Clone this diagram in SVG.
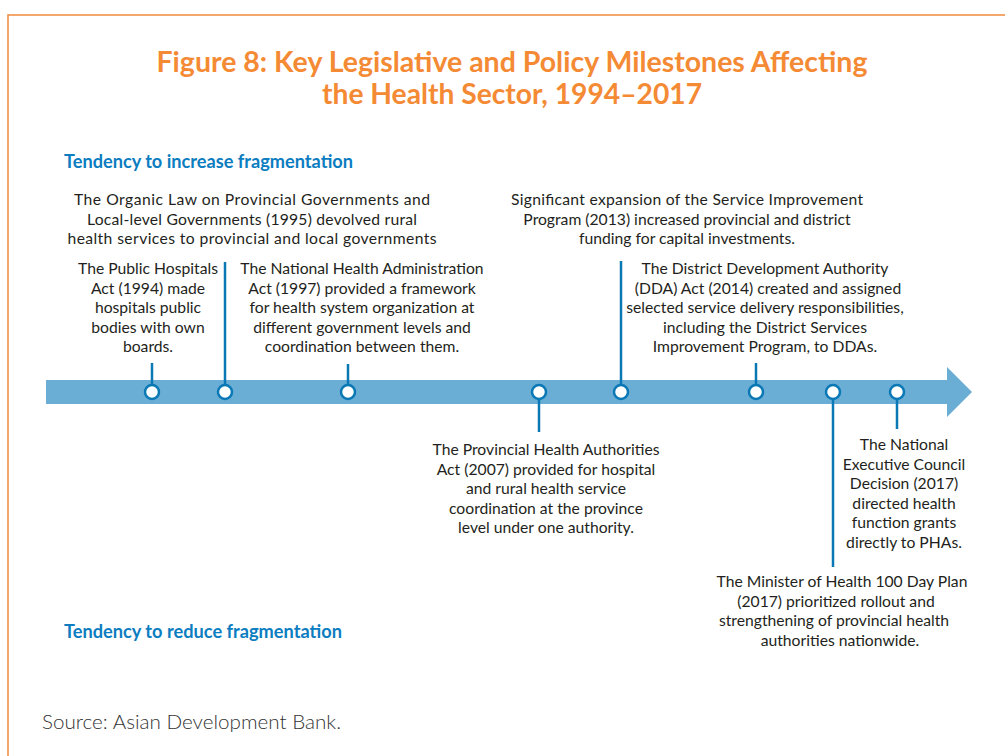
<svg xmlns="http://www.w3.org/2000/svg" width="1005" height="756" viewBox="0 0 1005 756">
<style>
.t{font-family:Lato,"Open Sans","Liberation Sans",sans-serif;font-size:15.7px;fill:#231f20;text-anchor:middle}
.h{font-family:Lato,"Liberation Sans",sans-serif;font-weight:bold;font-size:18px;fill:#0b7dc0}
.title{font-family:Lato,"Liberation Sans",sans-serif;font-weight:bold;font-size:28px;fill:#f58a35;text-anchor:middle}
.stem{stroke:#0a78b5;stroke-width:2.5;fill:none}
.dot{fill:#fff;stroke:#0a78b5;stroke-width:2.5}
</style>
<rect width="1005" height="756" fill="#fff"/>
<path d="M8,760 V15 H1010" fill="none" stroke="#f08a3c" stroke-width="1.5"/>
<g id="title">
<text class="title" x="512" y="72" textLength="711" lengthAdjust="spacingAndGlyphs">Figure 8: Key Legislative and Policy Milestones Affecting</text>
<text class="title" x="512" y="104" textLength="380" lengthAdjust="spacingAndGlyphs">the Health Sector, 1994–2017</text>
</g>
<text class="h" x="64" y="168" textLength="289" lengthAdjust="spacingAndGlyphs">Tendency to increase fragmentation</text>
<text class="h" x="64" y="638" textLength="278" lengthAdjust="spacingAndGlyphs">Tendency to reduce fragmentation</text>
<g id="timeline">
<path d="M46,380 H947 V367 L972,392 L947,417 V404 H46 Z" fill="#6aaed6"/>
</g>
<g id="connectors">
<line class="stem" x1="152" y1="363" x2="152" y2="385"/>
<line class="stem" x1="225" y1="262" x2="225" y2="385"/>
<line class="stem" x1="348" y1="364" x2="348" y2="385"/>
<line class="stem" x1="539" y1="399" x2="539" y2="432"/>
<line class="stem" x1="621" y1="261" x2="621" y2="385"/>
<line class="stem" x1="756" y1="363" x2="756" y2="385"/>
<line class="stem" x1="833" y1="399" x2="833" y2="567"/>
<line class="stem" x1="897" y1="399" x2="897" y2="429"/>
</g>
<g id="n1994">
<circle class="dot" cx="152" cy="392" r="7"/>
<text class="t"><tspan x="148" y="274">The Public Hospitals</tspan><tspan x="148" y="293.5">Act (1994) made</tspan><tspan x="148" y="313">hospitals public</tspan><tspan x="148" y="332.5">bodies with own</tspan><tspan x="148" y="352">boards.</tspan></text>
</g>
<g id="n1995">
<circle class="dot" cx="225" cy="392" r="7"/>
<text class="t"><tspan x="252" y="205" textLength="356">The Organic Law on Provincial Governments and</tspan><tspan x="252" y="224.5" textLength="330">Local-level Governments (1995) devolved rural</tspan><tspan x="252" y="244" textLength="369">health services to provincial and local governments</tspan></text>
</g>
<g id="n1997">
<circle class="dot" cx="348" cy="392" r="7"/>
<text class="t"><tspan x="362" y="274">The National Health Administration</tspan><tspan x="362" y="293.5">Act (1997) provided a framework</tspan><tspan x="362" y="313">for health system organization at</tspan><tspan x="362" y="332.5">different government levels and</tspan><tspan x="362" y="352">coordination between them.</tspan></text>
</g>
<g id="n2007">
<circle class="dot" cx="539" cy="392" r="7"/>
<text class="t"><tspan x="546" y="455">The Provincial Health Authorities</tspan><tspan x="546" y="474.5">Act (2007) provided for hospital</tspan><tspan x="546" y="494">and rural health service</tspan><tspan x="546" y="513.5">coordination at the province</tspan><tspan x="546" y="533">level under one authority.</tspan></text>
</g>
<g id="n2013">
<circle class="dot" cx="621" cy="392" r="7"/>
<text class="t"><tspan x="687" y="205" textLength="352">Significant expansion of the Service Improvement</tspan><tspan x="687" y="224.5">Program (2013) increased provincial and district</tspan><tspan x="687" y="244">funding for capital investments.</tspan></text>
</g>
<g id="n2014">
<circle class="dot" cx="756" cy="392" r="7"/>
<text class="t"><tspan x="765" y="274">The District Development Authority</tspan><tspan x="768" y="293.5">(DDA) Act (2014) created and assigned</tspan><tspan x="765" y="313">selected service delivery responsibilities,</tspan><tspan x="765" y="332.5">including the District Services</tspan><tspan x="765" y="352">Improvement Program, to DDAs.</tspan></text>
</g>
<g id="n2017plan">
<circle class="dot" cx="833" cy="392" r="7"/>
<text class="t"><tspan x="842" y="587">The Minister of Health 100 Day Plan</tspan><tspan x="836" y="606.5">(2017) prioritized rollout and</tspan><tspan x="834" y="626">strengthening of provincial health</tspan><tspan x="840" y="645.5">authorities nationwide.</tspan></text>
</g>
<g id="n2017nec">
<circle class="dot" cx="897" cy="392" r="7"/>
<text class="t"><tspan x="904" y="450">The National</tspan><tspan x="904" y="469.5">Executive Council</tspan><tspan x="904" y="489">Decision (2017)</tspan><tspan x="904" y="508.5">directed health</tspan><tspan x="904" y="528">function grants</tspan><tspan x="904" y="547.5">directly to PHAs.</tspan></text>
</g>
<text x="42" y="729" font-family="Lato,'Liberation Sans',sans-serif" font-weight="300" font-size="20" fill="#333" textLength="299" lengthAdjust="spacingAndGlyphs">Source: Asian Development Bank.</text>
</svg>
